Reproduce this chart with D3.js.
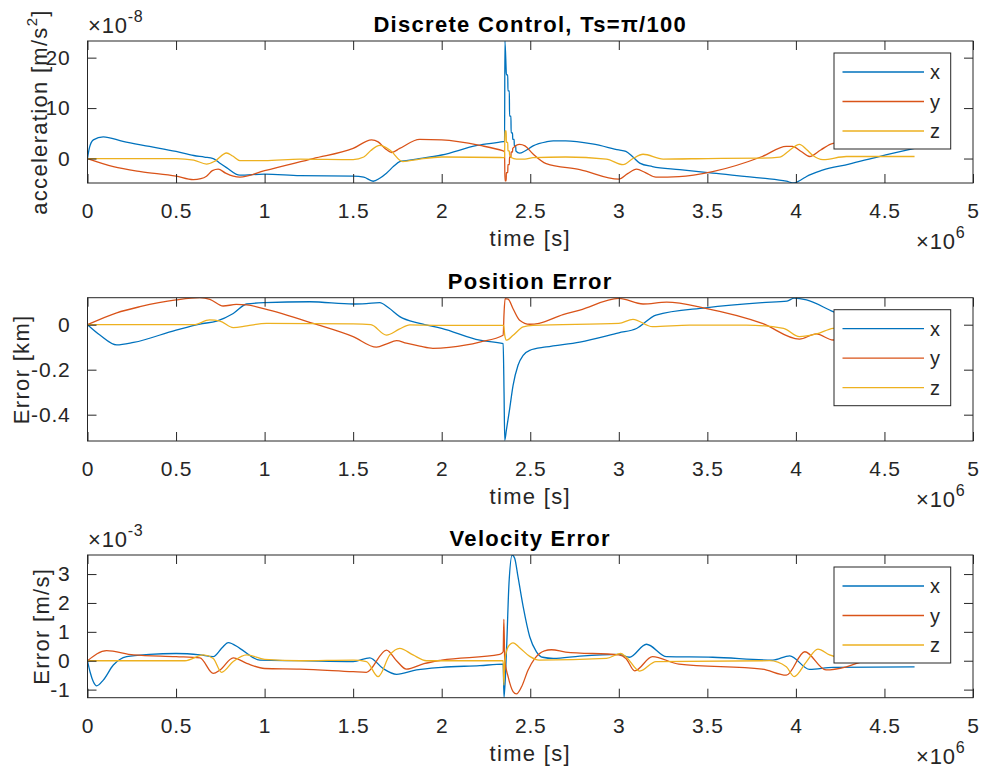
<!DOCTYPE html>
<html><head><meta charset="utf-8">
<script src="https://cdn.jsdelivr.net/npm/d3@7"></script>
<style>
body{margin:0;background:#fff}
text{font-family:"Liberation Sans",Arial,Helvetica,sans-serif}
</style>
</head><body>
<svg id="c" width="982" height="773"></svg>
<script>
// ---------- DATA (time in units of 1e6 s) ----------
const xTicks = [0,0.5,1,1.5,2,2.5,3,3.5,4,4.5,5];
const seriesNames = ["x","y","z"];
const seriesColors = ["#0072BD","#D95319","#EDB120"];

// Panel 1: acceleration (x1e-8 m/s^2), zero-order-hold steps right after the 2.35 jump
const accXt = [0,0.01,0.033,0.089,0.2,0.35,0.5,0.6,0.66,0.71,0.75,0.785,0.86,1.0,1.2,1.5,1.56,1.613,1.65,1.688,1.73,1.763,1.8,1.858,2.0,2.2,2.347,2.355,2.357,2.364,2.365,2.373,2.374,2.382,2.383,2.391,2.392,2.4,2.401,2.409,2.41,2.418,2.419,2.44,2.47,2.516,2.59,2.63,2.70,2.85,3.0,3.04,3.08,3.118,3.19,3.344,3.53,3.81,3.946,3.99,4.03,4.06,4.15,4.3,4.47,4.67];
const accXv = [0,2.0,3.7,4.3,3.4,2.4,1.4,0.6,0.3,0.0,-1.0,-1.8,-3.3,-3.1,-3.4,-3.5,-3.7,-4.5,-3.9,-2.9,-1.5,-0.6,-0.4,-0.1,0.7,2.6,3.35,3.4,23.3,17.5,16.6,16.6,13.4,13.4,8.4,8.4,5.1,5.1,3.8,3.8,2.5,2.5,1.5,1.06,1.5,2.5,3.3,3.5,3.5,2.9,1.7,1.4,0.3,-0.9,-1.6,-2.2,-2.9,-3.9,-4.5,-4.85,-4.2,-3.55,-2.3,-1.1,0.4,2.0];
const accYt = [0,0.146,0.3,0.5,0.597,0.64,0.672,0.705,0.738,0.78,0.823,0.86,1.0,1.274,1.5,1.604,1.641,1.68,1.717,1.763,1.876,2.0,2.215,2.347,2.355,2.357,2.364,2.365,2.373,2.374,2.382,2.383,2.391,2.392,2.4,2.401,2.44,2.47,2.516,2.59,2.78,3.0,3.05,3.10,3.15,3.21,3.34,3.53,3.81,3.946,3.98,4.03,4.077,4.14,4.21,4.4,4.67];
const accYv = [0,-1.6,-2.6,-3.5,-4.2,-4.0,-3.5,-2.4,-2.1,-2.9,-3.5,-3.7,-2.4,0,2.0,3.7,3.3,2.0,1.2,2.0,3.8,3.7,2.6,1.5,1.4,-4.4,-4.4,-2.8,-2.8,-1.2,-1.2,0.3,0.3,1.3,1.3,2.0,2.8,2.5,0.9,-1.0,-2.2,-4.1,-3.0,-2.1,-2.8,-3.7,-3.6,-2.6,0.4,2.4,2.4,1.4,0.4,1.7,3.0,3.6,3.8];
const accZt = [0,0.5,0.6,0.672,0.72,0.785,0.82,0.86,1.0,1.2,1.5,1.56,1.6,1.65,1.707,1.78,1.876,2.0,2.347,2.355,2.357,2.364,2.365,2.373,2.374,2.382,2.383,2.391,2.392,2.422,2.47,2.516,2.7,2.93,3.024,3.08,3.137,3.25,3.5,3.81,3.908,3.96,4.02,4.06,4.096,4.153,4.285,4.67];
const accZv = [0,0,-0.3,-1.1,-0.5,1.1,0.5,-0.4,-0.4,-0.1,-0.2,0.3,1.6,2.6,1.7,-0.6,-0.1,0.3,0.2,0.2,5.5,5.5,3.2,3.2,1.5,1.5,0.6,0.6,0.2,-0.1,-0.1,0.2,0.3,-0.1,-1.2,0.0,0.85,-0.1,0,0.1,0.3,1.5,2.8,1.8,0.6,-0.2,0.4,0.4];

// Panel 2: position error (km)
const posXt = [0,0.07,0.165,0.26,0.5,0.635,0.73,0.823,0.899,1.0,1.256,1.5,1.575,1.65,1.7,1.763,1.876,2.0,2.215,2.347,2.352,2.356,2.365,2.384,2.403,2.431,2.46,2.497,2.59,2.78,3.0,3.10,3.21,3.49,3.81,3.95,3.99,4.06,4.21,4.4,4.67];
const posXv = [0,-0.046,-0.09,-0.079,-0.024,0.003,0.016,0.05,0.092,0.098,0.102,0.092,0.094,0.098,0.075,0.036,0.006,-0.016,-0.069,-0.084,-0.3,-0.514,-0.47,-0.373,-0.27,-0.18,-0.136,-0.114,-0.099,-0.077,-0.036,-0.017,0.043,0.075,0.098,0.105,0.118,0.11,0.058,0.0,-0.05];
const posYt = [0,0.165,0.296,0.5,0.635,0.691,0.766,0.84,0.899,1.0,1.274,1.5,1.632,1.69,1.745,1.8,1.876,1.95,2.14,2.215,2.347,2.352,2.358,2.375,2.403,2.44,2.497,2.55,2.685,2.78,3.0,3.137,3.27,3.49,3.81,4.02,4.115,4.21,4.4,4.67];
const posYv = [0,0.053,0.08,0.11,0.12,0.113,0.083,0.09,0.088,0.07,0.006,-0.053,-0.1,-0.085,-0.071,-0.082,-0.095,-0.105,-0.09,-0.077,-0.047,0.05,0.116,0.114,0.071,0.02,0.002,0.006,0.045,0.065,0.117,0.092,0.1,0.073,0.006,-0.064,-0.041,-0.068,-0.05,-0.03];
const posZt = [0,0.6,0.69,0.748,0.823,0.9,1.011,1.5,1.6,1.688,1.76,1.82,2.0,2.35,2.356,2.366,2.403,2.46,2.516,3.0,3.08,3.19,3.4,3.72,3.93,4.02,4.115,4.21,4.4,4.67];
const posZv = [0,0,0.021,0.016,-0.013,-0.005,0.006,0.004,0.0,-0.046,-0.02,-0.001,-0.003,-0.003,-0.047,-0.069,-0.047,-0.01,-0.003,0.006,0.024,-0.009,-0.002,-0.002,-0.016,-0.053,-0.041,-0.016,-0.005,0];

// Panel 3: velocity error (x1e-3 m/s)
const velXt = [0,0.015,0.033,0.052,0.089,0.146,0.221,0.35,0.5,0.635,0.71,0.76,0.795,0.86,0.973,1.2,1.5,1.594,1.669,1.745,1.858,2.0,2.215,2.347,2.352,2.366,2.38,2.398,2.412,2.431,2.46,2.497,2.535,2.57,2.63,2.78,3.0,3.06,3.156,3.27,3.53,3.87,3.965,4.077,4.21,4.67];
const velXv = [0,-0.4,-0.73,-0.87,-0.67,-0.15,0.14,0.22,0.25,0.2,0.14,0.45,0.63,0.43,0.02,0,-0.03,0.1,-0.27,-0.47,-0.32,-0.23,-0.17,-0.12,-1.28,0.37,2.68,3.66,3.55,2.9,1.87,0.83,0.31,0.12,0.08,0.16,0.22,0.12,0.57,0.14,0.12,0.02,0.17,-0.3,-0.23,-0.21];
const velYt = [0,0.108,0.26,0.5,0.635,0.71,0.748,0.823,0.899,1.0,1.2,1.5,1.575,1.688,1.745,1.8,1.9,2.0,2.328,2.347,2.351,2.356,2.375,2.403,2.422,2.451,2.488,2.526,2.58,2.62,2.7,3.0,3.04,3.09,3.19,3.34,3.81,3.946,4.05,4.17,4.285,4.38,4.67];
const velYv = [0,0.35,0.2,0.14,0.1,-0.44,-0.32,0.1,-0.09,-0.27,-0.29,-0.38,-0.4,0.37,0.0,-0.29,-0.1,0.02,0.22,0.31,1.43,0.02,-0.55,-1.07,-1.15,-0.9,-0.32,0.08,0.34,0.38,0.3,0.2,0.08,-0.35,0.14,-0.12,-0.29,-0.5,0.31,-0.32,-0.21,-0.03,0.1];
const velZt = [0,0.55,0.654,0.71,0.757,0.823,0.899,1.0,1.2,1.5,1.575,1.641,1.707,1.763,1.838,1.914,2.347,2.351,2.356,2.375,2.403,2.44,2.497,2.55,2.93,3.01,3.04,3.118,3.21,3.85,3.946,3.99,4.06,4.124,4.19,4.3,4.67];
const velZv = [0,0,0.2,0.08,-0.4,-0.03,0.2,0.05,0,0.02,-0.03,-0.55,0.2,0.43,0.2,0,0,-0.84,0.0,0.48,0.62,0.45,0.15,0.02,0.08,0.25,0.14,-0.36,-0.03,0,-0.21,-0.55,-0.03,0.4,0.2,0.05,0];

const titles = ["Discrete Control, Ts=\u03c0/100","Position Error","Velocity Error"];
const yDomains = [[-4.85,23.3],[-0.517,0.12],[-1.28,3.66]];
const yTicks = [[0,10,20],[-0.4,-0.2,0],[-1,0,1,2,3]];
const yExponents = ["-8", null, "-3"];

// ---------- LAYOUT ----------
const svg = d3.select("#c");
const L = 87.5, R = 973;
const tops = [41, 297.7, 555], bots = [183, 441, 697.7];
const INK = "#262626";
const x = d3.scaleLinear().domain([0,5]).range([L,R]);
const zip = (t,v)=>t.map((d,i)=>[d,v[i]]);
const panelSeries = [
  [zip(accXt,accXv), zip(accYt,accYv), zip(accZt,accZv)],
  [zip(posXt,posXv), zip(posYt,posYv), zip(posZt,posZv)],
  [zip(velXt,velXv), zip(velYt,velYv), zip(velZt,velZv)]
];
const fmtX = d => String(d);
const fmtY = d => (d<0? "-" : "") + String(Math.abs(d));

panelSeries.forEach((series, p) => {
  const top = tops[p], bot = bots[p];
  const y = d3.scaleLinear().domain(yDomains[p]).range([bot, top]);
  const g = svg.append("g");
  const cid = "clip"+p;
  g.append("clipPath").attr("id",cid).append("rect")
    .attr("x",L).attr("y",top).attr("width",R-L).attr("height",bot-top);

  const line = d3.line().x(d=>x(d[0])).y(d=>y(d[1])).curve(d3.curveMonotoneX);
  const lg = g.append("g").attr("clip-path",`url(#${cid})`);
  series.forEach((s,i)=>{
    lg.append("path").attr("d",line(s)).attr("fill","none")
      .attr("stroke",seriesColors[i]).attr("stroke-width",1.3).attr("stroke-linejoin","round");
  });

  const TL = 9;
  const axB = d3.axisBottom(x).tickValues(xTicks).tickSize(-TL).tickPadding(TL+11).tickFormat(fmtX);
  const axT = d3.axisTop(x).tickValues(xTicks).tickSize(-TL).tickFormat("");
  const axL = d3.axisLeft(y).tickValues(yTicks[p]).tickSize(-TL).tickPadding(TL+8).tickFormat(fmtY);
  const axRr = d3.axisRight(y).tickValues(yTicks[p]).tickSize(-TL).tickFormat("");
  [[axB,`translate(0,${bot})`],[axT,`translate(0,${top})`],[axL,`translate(${L},0)`],[axRr,`translate(${R},0)`]].forEach(([ax,tr])=>{
    const a = g.append("g").attr("transform",tr).call(ax);
    a.select(".domain").remove();
    a.selectAll("line").attr("stroke",INK).attr("stroke-width",1);
    a.selectAll("text").attr("fill",INK).style("font-size","21px").style("letter-spacing","0.8px")
      .style("font-family",'"Liberation Sans",Arial,sans-serif');
  });
  g.append("rect").attr("x",L).attr("y",top).attr("width",R-L).attr("height",bot-top)
    .attr("fill","none").attr("stroke",INK).attr("stroke-width",1);

  g.append("text").attr("x",(L+R)/2).attr("y",top-9).attr("text-anchor","middle")
    .style("font-size","22px").style("font-weight","bold").style("letter-spacing","1.3px")
    .attr("fill","#000").text(titles[p]);

  g.append("text").attr("x",(L+R)/2).attr("y",bot+63).attr("text-anchor","middle")
    .style("font-size","22px").style("letter-spacing","1.3px").attr("fill",INK).text("time [s]");
  const xe = g.append("text").attr("x",916).attr("y",bot+66).attr("fill",INK)
    .style("font-size","22px").style("letter-spacing","0.8px");
  xe.append("tspan").text("\u00d710");
  xe.append("tspan").attr("dy",-11).style("font-size","16px").text("6");

  if (yExponents[p]) {
    const ye = g.append("text").attr("x",88).attr("y",top-8).attr("fill",INK)
      .style("font-size","22px").style("letter-spacing","0.8px");
    ye.append("tspan").text("\u00d710");
    ye.append("tspan").attr("dy",-11).style("font-size","16px").text(yExponents[p]);
  }

  const ylx = [47, 29, 49][p];
  const yl = g.append("text").attr("transform",`translate(${ylx},${(top+bot)/2}) rotate(-90)`)
    .attr("text-anchor","middle").attr("fill",INK).style("font-size","22px").style("letter-spacing","1.3px");
  if (p===0) {
    yl.append("tspan").text("acceleration [m/s");
    yl.append("tspan").attr("dy",-10).style("font-size","15px").text("2");
    yl.append("tspan").attr("dy",10).text("]");
  } else if (p===1) {
    yl.text("Error [km]");
  } else {
    yl.text("Error [m/s]");
  }

  const lx0 = 834, lx1 = 950.7, ly0 = top+12, lh = 96;
  const leg = g.append("g");
  leg.append("rect").attr("x",lx0).attr("y",ly0).attr("width",lx1-lx0).attr("height",lh)
    .attr("fill","#fff").attr("stroke",INK).attr("stroke-width",1);
  seriesNames.forEach((n,i)=>{
    const ry = ly0 + 19 + i*29.5;
    leg.append("line").attr("x1",842.5).attr("x2",924).attr("y1",ry).attr("y2",ry)
      .attr("stroke",seriesColors[i]).attr("stroke-width",1.3);
    leg.append("text").attr("x",930).attr("y",ry+7).attr("fill",INK)
      .style("font-size","20px").text(n);
  });
});
</script>
</body></html>
